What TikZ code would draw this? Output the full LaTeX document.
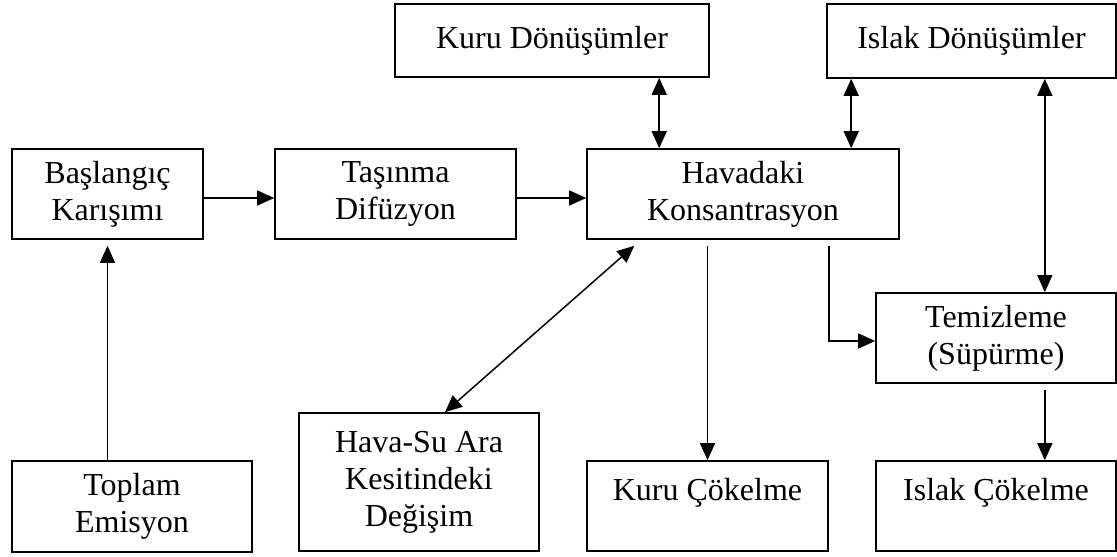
\documentclass[tikz,border=0pt]{standalone}
\usepackage{fontspec}
\setmainfont{Liberation Serif}
\usetikzlibrary{arrows.meta}
\def\px{0.5pt}
\tikzset{
    >={Triangle[length=8.5pt,width=7.5pt]},
    kutu/.style={draw, line width=0.8pt, inner sep=0pt, align=center,
        font=\fontsize{16}{18.5}\selectfont},
    ok/.style={->, line width=0.75pt},
    ciftok/.style={<->, line width=0.75pt},
}
\newcommand{\kutu}[7][]{
    \node[kutu, #1, minimum width={(#5-#3)*\px}, minimum height={(#6-#4)*\px}]
    (#2) at ({(#3+#5)/2*\px}, {-(#4+#6)/2*\px}) {#7};
}

\begin{document}
\begin{tikzpicture}
    \useasboundingbox (0,0) rectangle ({1117*\px},{-556*\px});
    \kutu{kd}{395}{4}{709}{77}{Kuru Dönüşümler}
    \kutu{id}{827}{4}{1116}{78}{Islak Dönüşümler}
    \kutu{bas}{12}{149}{203}{239}{Başlangıç\\Karışımı}
    \kutu{tas}{275}{149}{516}{239}{Taşınma\\Difüzyon}
    \kutu{hav}{587}{149}{899}{239}{Havadaki\\Konsantrasyon}
    \kutu{tem}{876}{293}{1116}{383}{Temizleme\\(Süpürme)}
    \kutu{hs}{299}{413}{539}{551}{Hava-Su Ara\\Kesitindeki\\Değişim}
    \kutu{top}{12}{461}{252}{552}{Toplam\\Emisyon}
    \kutu[text height=11pt, text depth=17pt]{kc}{587}{461}{828}{551}{Kuru Çökelme}
    \kutu[text height=11pt, text depth=17pt]{ic}{876}{461}{1116}{551}{Islak Çökelme}

    \coordinate (k1) at ([xshift=36.5pt]hav.north west);
    \coordinate (k2) at ([xshift=12.5pt]id.south west);
    \coordinate (k3) at ([xshift=-36pt]tem.north east);

    \draw[ok] ([yshift=-2pt]bas.east) -- ([yshift=-2pt]tas.west);
    \draw[ok] ([yshift=-2pt]tas.east) -- ([yshift=-2pt]hav.west);
    \draw[ok, shorten >=3pt] (top.north -| bas) -- (bas.south);
    \draw[ciftok] (kd.south -| k1) -- (k1);
    \draw[ciftok] (k2) -- (k2 |- hav.north);
    \draw[ciftok] (k3 |- id.south) -- (k3);
    \draw[ok] ([xshift=-35.5pt,yshift=-3pt]hav.south east) |- ([yshift=-1.5pt]tem.west);
    \draw[ok, shorten <=3pt] (hav.south -| kc) -- (kc.north);
    \draw[ciftok] ([xshift=24pt,yshift=-3pt]hav.south west) -- ([xshift=13pt]hs.north);
    \draw[ok, shorten <=3pt] (tem.south -| k3) -- (k3 |- ic.north);
\end{tikzpicture}
\end{document}
